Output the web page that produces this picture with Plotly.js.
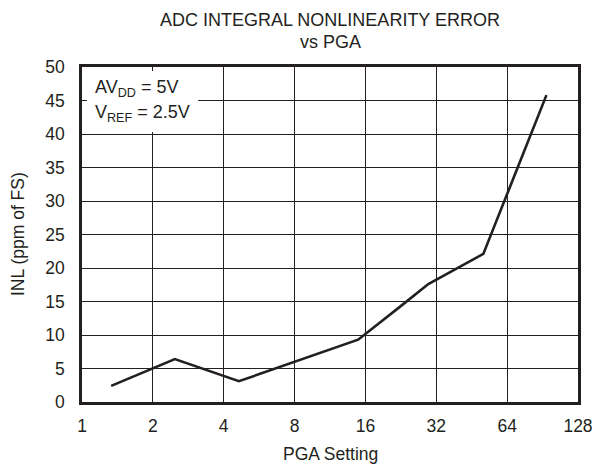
<!DOCTYPE html>
<html>
<head>
<meta charset="utf-8">
<script src="https://cdn.plot.ly/plotly-3.0.1.min.js"></script>
<style>html,body{margin:0;padding:0;background:#fff;}#chart{width:597px;height:466px;}</style>
</head>
<body>
<div id="chart"></div>
<script>
// Data
const pgaSetting = [1.33, 2.48, 4.64, 14.9, 22.4, 29.6, 50.7, 94];
const inlPpm = [2.4, 6.4, 3.1, 9.3, 14.2, 17.6, 22.1, 45.8];
const xTickVals = [1, 2, 4, 8, 16, 32, 64, 128];
const xTickText = ['1', '2', '4', '8', '16', '32', '64', '128'];
const yTickVals = [0, 5, 10, 15, 20, 25, 30, 35, 40, 45, 50];

const font = 'Liberation Sans, Arial, sans-serif';
const ink = '#231f20';

const trace = {
  x: pgaSetting,
  y: inlPpm,
  type: 'scatter',
  mode: 'lines',
  line: {color: ink, width: 2.6},
  hoverinfo: 'skip'
};

const layout = {
  width: 597,
  height: 466,
  margin: {l: 82, r: 19, t: 67, b: 64},
  paper_bgcolor: '#fff',
  plot_bgcolor: '#fff',
  showlegend: false,
  font: {family: font, size: 18, color: ink},
  xaxis: {
    type: 'log',
    range: [0, Math.log10(128)],
    tickvals: xTickVals,
    ticktext: xTickText,
    showgrid: true,
    gridcolor: ink,
    gridwidth: 1,
    showline: true,
    linecolor: ink,
    linewidth: 2.8,
    mirror: true,
    ticks: '',
    ticklabelstandoff: 6,
    zeroline: false,
    tickfont: {family: font, size: 17.5, color: ink}
  },
  yaxis: {
    range: [0, 50],
    tickvals: yTickVals,
    showgrid: true,
    gridcolor: ink,
    gridwidth: 1,
    showline: true,
    linecolor: ink,
    linewidth: 2.8,
    mirror: true,
    ticks: '',
    ticklabelstandoff: 11,
    zeroline: false,
    tickfont: {family: font, size: 17.5, color: ink}
  },
  shapes: [{
    type: 'rect', xref: 'paper', yref: 'paper', layer: 'above',
    x0: 0.01, x1: 0.234, y0: 0.806, y1: 0.988,
    fillcolor: '#fff', line: {width: 0}
  }],
  annotations: [
    {xref: 'paper', yref: 'paper', x: 0.5, y: 1.14, xanchor: 'center', yanchor: 'middle', showarrow: false,
     text: 'ADC INTEGRAL NONLINEARITY ERROR', font: {family: font, size: 18, color: ink}},
    {xref: 'paper', yref: 'paper', x: 0.5, y: 1.074, xanchor: 'center', yanchor: 'middle', showarrow: false,
     text: 'vs PGA', font: {family: font, size: 18, color: ink}},
    {xref: 'paper', yref: 'paper', x: 0.5, y: -0.155, xanchor: 'center', yanchor: 'middle', showarrow: false,
     text: 'PGA Setting', font: {family: font, size: 17.5, color: ink}},
    {xref: 'paper', yref: 'paper', x: -0.13, y: 0.5, xanchor: 'center', yanchor: 'middle', showarrow: false,
     textangle: -90, text: 'INL (ppm of FS)', font: {family: font, size: 17.5, color: ink}},
    {xref: 'paper', yref: 'paper', x: 0.022, y: 0.937, xanchor: 'left', yanchor: 'middle',
     align: 'left', showarrow: false,
     text: 'AV<sub>DD</sub> = 5V', font: {family: font, size: 18, color: ink}},
    {xref: 'paper', yref: 'paper', x: 0.022, y: 0.86, xanchor: 'left', yanchor: 'middle',
     align: 'left', showarrow: false,
     text: 'V<sub>REF</sub> = 2.5V', font: {family: font, size: 18, color: ink}}
  ]
};

Plotly.newPlot('chart', [trace], layout, {displayModeBar: false, staticPlot: true});
</script>
</body>
</html>
